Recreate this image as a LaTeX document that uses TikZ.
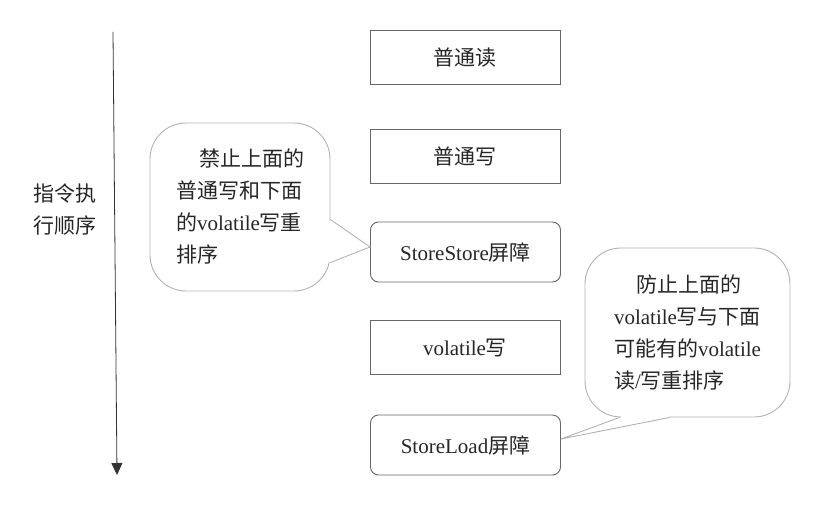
\documentclass[tikz,border=0pt]{standalone}
\usepackage{fontspec}
\setmainfont{Liberation Serif}
\newfontfamily\cjk{Noto Sans CJK SC}
\newcommand{\zh}[1]{{\cjk #1}}
\usetikzlibrary{arrows.meta,calc}

\begin{document}
\begin{tikzpicture}[
		x=1pt, y=-1pt,
		every node/.style = {
			align=left, text=black!85,
			font=\fontsize{21}{32}\selectfont},
		opbox/.style = {
			shape=rectangle, draw=black!60, line width=0.9pt,
			minimum width=190pt, minimum height=54pt, align=center},
		barrier/.style = {opbox, rounded corners=8pt, minimum height=60pt},
		note/.style = {
			shape=rectangle, draw=black!30, line width=0.9pt,
			rounded corners=36pt, inner sep=0pt}]

		\useasboundingbox (0,0) rectangle (819,529);

		% execution order
		\coordinate (start) at (113,32);
		\coordinate (end) at (117,475);
		\draw[black!80, line width=0.8pt, -{Triangle[length=12pt,width=11pt]}] (start) -- (end);
		\node (order) at (65,209.5) {\zh{指令执}\\\zh{行顺序}};

		% instructions
		\node[opbox] (nread) at (465,57.5) {\zh{普通读}};
		\node[opbox] (nwrite) at (465,156) {\zh{普通写}};
		\node[barrier] (ss) at (465.5,252) {StoreStore\zh{屏障}};
		\node[opbox] (vwrite) at (465,347.5) {volatile\zh{写}};
		\node[barrier] (sl) at (465.5,445) {StoreLoad\zh{屏障}};

		% notes
		\node[note, minimum width=180pt, minimum height=168pt] (lnote) at (240,207)
			{\hspace*{23pt}\zh{禁止上面的}\\\zh{普通写和下面}\\\zh{的}volatile\zh{写重}\\\zh{排序}};
		\node[note, minimum width=205pt, minimum height=169pt] (rnote) at (687.5,332.5)
			{\hspace*{22pt}\zh{防止上面的}\\volatile\zh{写与下面}\\\zh{可能有的}volatile\\\zh{读}/\zh{写重排序}};

		\coordinate (la) at ($(lnote.north east)+(0,97)$);
		\coordinate (lb) at ($(lnote.north east)+(0,140)$);
		\fill[white] ($(la)+(-1.5,1)$) rectangle ($(lb)+(1.5,-1)$);
		\draw[black!30, line width=0.9pt] (la) -- ([yshift=5pt]ss.west) -- (lb);

		\coordinate (ra) at ($(rnote.south west)+(35,0)$);
		\coordinate (rb) at ($(rnote.south west)+(85,0)$);
		\fill[white] ($(ra)+(1,-1.5)$) rectangle ($(rb)+(-1,1.5)$);
		\draw[black!30, line width=0.9pt] (ra) -- ([yshift=6pt]sl.east) -- (rb);
\end{tikzpicture}
\end{document}
